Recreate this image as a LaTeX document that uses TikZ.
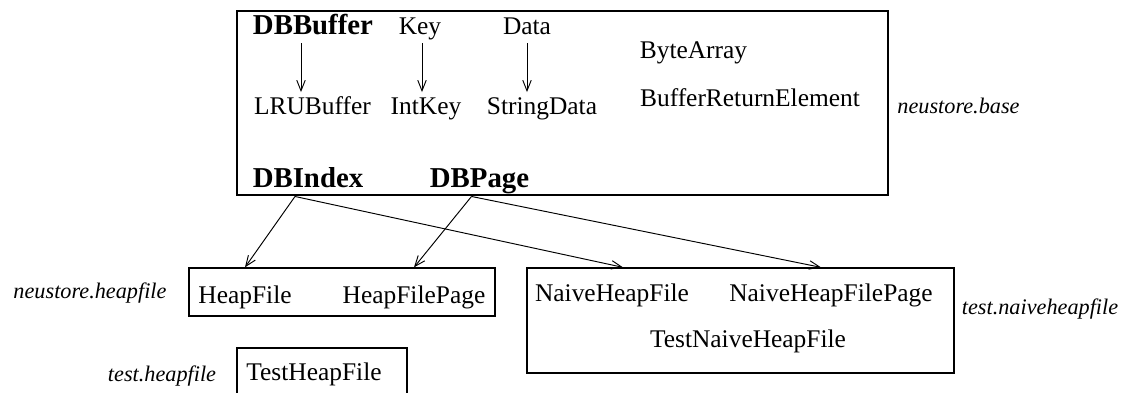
\documentclass[tikz,border=0pt]{standalone}
\usepackage{fontspec}
\setmainfont{Liberation Serif}
\usetikzlibrary{arrows.meta,calc,fit}

\begin{document}
\begin{tikzpicture}[x=0.472pt, y=-0.472pt, line width=0.6pt, >={Straight Barb[length=5pt,width=4pt]}, dep/.style={->, line width=0.45pt}, cls/.style={inner sep=0pt, outer sep=4pt, text depth=0pt, text height=0.68em, font=\fontsize{12}{14}\selectfont}, core/.style={cls, font=\fontsize{13.6}{16}\selectfont\bfseries}, pkg/.style={inner sep=0pt, font=\fontsize{10.5}{12}\selectfont\itshape}, pkgbox/.style={draw, inner sep=0pt}]
  \path[use as bounding box, clip] (0,0) rectangle (1122,393);

  % neustore.base
  \node[pkgbox, fit={(237,11) (888,195)}] (base) {};
  \node[core, anchor=base] (dbbuffer) at (313,35) {DBBuffer};
  \node[cls, anchor=base] (key) at (420,35) {Key};
  \node[cls, anchor=base] (data) at (527,35) {Data};
  \node[cls, anchor=base] (bytearray) at (693.5,59) {ByteArray};
  \node[cls, anchor=base] (lrubuffer) at (312.5,115) {LRUBuffer};
  \node[cls, anchor=base] (intkey) at (426,115) {IntKey};
  \node[cls, anchor=base] (stringdata) at (542,115) {StringData};
  \node[cls, anchor=base] (bufferret) at (750,107) {BufferReturnElement};
  \node[core, anchor=base] (dbindex) at (308,188) {DBIndex};
  \node[core, anchor=base] (dbpage) at (479.5,188) {DBPage};
  \node[pkg, anchor=base] (baselabel) at (958.5,114) {neustore.base};

  \draw[dep] ($(dbbuffer.south)+(-12,0)$) -- ($(dbbuffer.south |- lrubuffer.north)+(-12,0)$);
  \draw[dep] ($(key.south)+(2,0)$) -- ($(key.south |- intkey.north)+(2,0)$);
  \draw[dep] (data.south) -- (data.south |- stringdata.north);

  % neustore.heapfile
  \node[pkgbox, fit={(189,268) (495,316)}] (heap) {};
  \node[cls, anchor=base] (heapfile) at (245,304) {HeapFile};
  \node[cls, anchor=base] (heapfilepage) at (414,304) {HeapFilePage};
  \node[pkg, anchor=base] (heaplabel) at (90,299) {neustore.heapfile};

  % test.naiveheapfile
  \node[pkgbox, fit={(527,268) (954,373)}] (naive) {};
  \node[cls, anchor=base] (naivefile) at (612,302) {NaiveHeapFile};
  \node[cls, anchor=base] (naivepage) at (831,302) {NaiveHeapFilePage};
  \node[cls, anchor=base] (testnaive) at (748,348) {TestNaiveHeapFile};
  \node[pkg, anchor=base] (naivelabel) at (1040,315) {test.naiveheapfile};

  % test.heapfile
  \node[pkgbox, fit={(237,348) (407,396)}] (test) {};
  \node[cls, anchor=base] (testheap) at (314,381) {TestHeapFile};
  \node[pkg, anchor=base] (testlabel) at (162,382) {test.heapfile};

  \draw[dep] ($(dbindex.south)+(-13,0)$) -- (heapfile.center |- heap.north);
  \draw[dep] ($(dbpage.south)+(-8,0)$) -- (heapfilepage.center |- heap.north);
  \draw[dep] ($(dbindex.south)+(-13,0)$) -- ($(naivefile.center |- naive.north)+(11,0)$);
  \draw[dep] ($(dbpage.south)+(-8,0)$) -- ($(naivepage.center |- naive.north)+(-10,0)$);
\end{tikzpicture}
\end{document}
